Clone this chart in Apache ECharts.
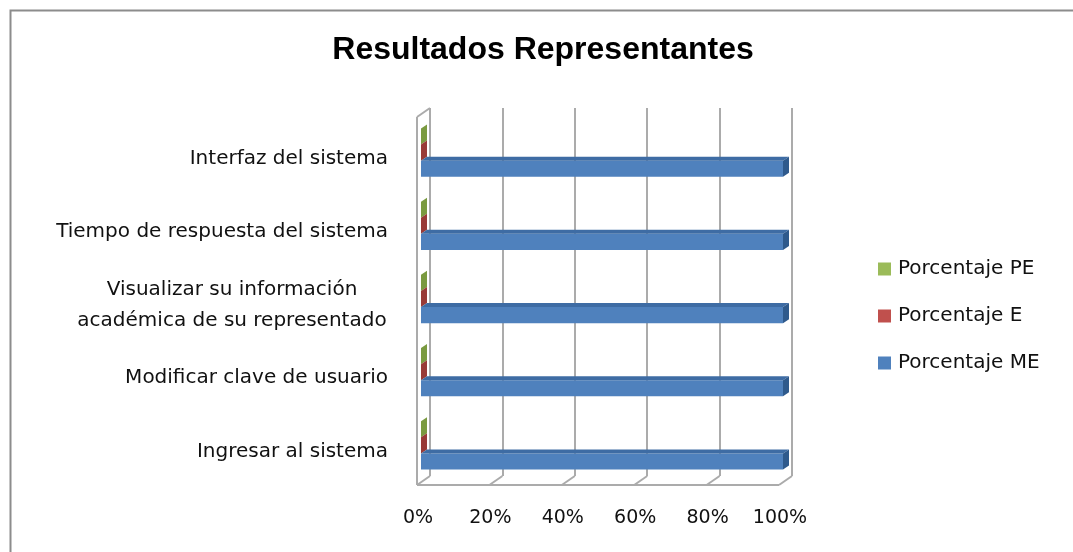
<!DOCTYPE html>
<html>
<head>
<meta charset="utf-8">
<script src="https://cdn.jsdelivr.net/npm/echarts@6/dist/echarts.min.js"></script>
<style>
  html, body { margin: 0; padding: 0; background: #fff; }
  #chart { width: 1073px; height: 552px; }
</style>
</head>
<body>
<div id="chart"></div>
<script>
// Survey items, bottom to top as the category axis lays them out
const categories = [
  'Ingresar al sistema',
  'Modificar clave de usuario',
  'Visualizar su información\nacadémica de su representado',
  'Tiempo de respuesta del sistema',
  'Interfaz del sistema'
];
const seriesNames = ['Porcentaje PE', 'Porcentaje E', 'Porcentaje ME'];
const pePct = [0, 0, 0, 0, 0];
const ePct = [0, 0, 0, 0, 0];
const mePct = [100, 100, 100, 100, 100];
const pctTicks = [0, 20, 40, 60, 80, 100];

const FONT = 'DejaVu Sans';
const LABEL_SIZE = 20;
const TICK_SIZE = 19;
const TEXT_COLOR = '#111';
const GRID_COLOR = '#ababab';
// depth of the box walls (back wall -> front edge)
const WALL_DX = -13, WALL_DY = 9;
// depth of each bar (front face -> back face)
const BAR_DX = 6, BAR_DY = 4;

const shades = {
  'Porcentaje PE': { front: '#9bbb59', top: '#86a64a', side: '#7a9a40' },
  'Porcentaje E':  { front: '#c0504d', top: '#a7423f', side: '#983a37' },
  'Porcentaje ME': { front: '#4f81bd', top: '#3e6ca4', side: '#2f5a8c' }
};

function barItem(slot, name) {
  return function (params, api) {
    const value = api.value(0);
    const cat = api.value(1);
    const band = api.size([0, 1])[1];
    const t = band * 0.22;
    const c0 = api.coord([0, cat]);
    const c1 = api.coord([value, cat]);
    const x0 = c0[0], x1 = c1[0];
    const yt = c0[1] - 1.5 * t + slot * t;
    const s = shades[name];
    return {
      type: 'group',
      children: [
        { type: 'rect', shape: { x: x0, y: yt, width: x1 - x0, height: t },
          style: { fill: s.front } },
        { type: 'polygon', shape: { points: [[x0, yt], [x1, yt], [x1 + BAR_DX, yt - BAR_DY], [x0 + BAR_DX, yt - BAR_DY]] },
          style: { fill: s.top } },
        { type: 'polygon', shape: { points: [[x1, yt], [x1, yt + t], [x1 + BAR_DX, yt + t - BAR_DY], [x1 + BAR_DX, yt - BAR_DY]] },
          style: { fill: s.side } }
      ]
    };
  };
}

function frameItem(params, api) {
  const v = api.value(0);
  const cs = params.coordSys;
  const bottom = cs.y + cs.height;
  const x = api.coord([v, 0])[0];
  const ls = { stroke: GRID_COLOR, lineWidth: 2, fill: null };
  const children = [
    { type: 'line', shape: { x1: x, y1: bottom, x2: x + WALL_DX, y2: bottom + WALL_DY }, style: ls }
  ];
  if (v === pctTicks[0]) {
    const xEnd = api.coord([pctTicks[pctTicks.length - 1], 0])[0];
    children.push(
      { type: 'line', shape: { x1: x + WALL_DX, y1: cs.y + WALL_DY, x2: x + WALL_DX, y2: bottom + WALL_DY }, style: ls },
      { type: 'line', shape: { x1: x + WALL_DX, y1: cs.y + WALL_DY, x2: x, y2: cs.y }, style: ls },
      { type: 'line', shape: { x1: x + WALL_DX, y1: bottom + WALL_DY, x2: xEnd + WALL_DX, y2: bottom + WALL_DY }, style: ls }
    );
  }
  return { type: 'group', children };
}

const chart = echarts.init(document.getElementById('chart'), null, { renderer: 'canvas' });

const barSeries = [pePct, ePct, mePct].map((vals, i) => ({
  name: seriesNames[i],
  type: 'custom',
  xAxisIndex: 1,
  yAxisIndex: 1,
  renderItem: barItem(i, seriesNames[i]),
  itemStyle: { color: shades[seriesNames[i]].front },
  encode: { x: 0, y: 1 },
  data: vals.map((v, k) => [v, k]),
  z: 3
}));

chart.setOption({
  animation: false,
  textStyle: { fontFamily: FONT },
  graphic: [{
    type: 'rect', left: 8, top: 8, silent: true,
    shape: { width: 1200, height: 700 },
    style: { fill: null, stroke: '#8c8c8c', lineWidth: 2 }
  }],
  title: {
    text: 'Resultados Representantes',
    left: 538, top: 29, textAlign: 'center',
    textStyle: { fontFamily: 'Liberation Sans', fontWeight: 'bold', fontSize: 32, color: '#000' }
  },
  legend: {
    orient: 'vertical',
    left: 873, top: 254,
    itemWidth: 13, itemHeight: 13,
    itemGap: 27,
    icon: 'rect',
    data: seriesNames,
    textStyle: { fontFamily: FONT, fontSize: LABEL_SIZE, color: TEXT_COLOR, padding: [0, 0, 0, 2] }
  },
  grid: [
    // back wall of the box
    { left: 430, width: 362, top: 108, height: 368 },
    // plane of the bars' front faces
    { left: 421, width: 362, top: 116, height: 366 }
  ],
  xAxis: [
    {
      gridIndex: 0, type: 'value', min: 0, max: 100, interval: 20,
      axisLine: { show: false }, axisTick: { show: false },
      splitLine: { show: true, lineStyle: { color: GRID_COLOR, width: 2 } },
      axisLabel: {
        formatter: '{value}%', margin: 33, padding: [0, 24, 0, 0],
        fontFamily: FONT, fontSize: TICK_SIZE, color: TEXT_COLOR
      }
    },
    {
      gridIndex: 1, type: 'value', min: 0, max: 100, interval: 20, show: false
    }
  ],
  yAxis: [
    { gridIndex: 0, type: 'value', min: 0, max: 1, show: false },
    {
      gridIndex: 1, type: 'category', data: categories,
      axisLine: { show: false }, axisTick: { show: false },
      axisLabel: {
        margin: 33, padding: [12, 0, 0, 0],
        fontFamily: FONT, fontSize: LABEL_SIZE, color: TEXT_COLOR, lineHeight: 31,
        formatter: function (v) {
          if (v.indexOf('\n') >= 0) {
            return v.split('\n').map(s => '{c|' + s + '}').join('\n');
          }
          return v;
        },
        rich: {
          c: { width: 312, align: 'center', fontFamily: FONT, fontSize: LABEL_SIZE, color: TEXT_COLOR, lineHeight: 31 }
        }
      }
    }
  ],
  series: [
    {
      type: 'custom',
      xAxisIndex: 0, yAxisIndex: 0,
      renderItem: frameItem,
      encode: { x: 0 },
      data: pctTicks.map(v => [v]),
      silent: true,
      z: 1
    }
  ].concat(barSeries)
});
</script>
</body>
</html>
